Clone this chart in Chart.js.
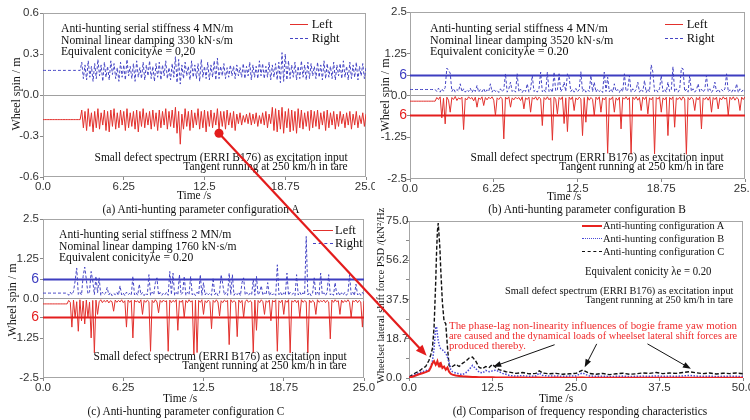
<!DOCTYPE html>
<html><head><meta charset="utf-8">
<script src="https://cdn.jsdelivr.net/npm/chart.js"></script>
<style>
html,body{margin:0;padding:0;background:#fff;}
#wrap{position:relative;width:750px;height:420px;overflow:hidden;background:#fff;}
canvas{position:absolute;}
.t{position:absolute;white-space:nowrap;font-family:"Liberation Serif","Times New Roman",serif;color:#111;}
.lg{position:absolute;height:0;}
</style></head><body><div id="wrap">
<canvas id="cA" width="375" height="204" style="left:0;top:0;width:375px;height:204px"></canvas>
<canvas id="cB" width="375" height="204" style="left:375px;top:0;width:375px;height:204px"></canvas>
<canvas id="cC" width="375" height="201" style="left:0;top:206px;width:375px;height:201px"></canvas>
<canvas id="cD" width="375" height="201" style="left:375px;top:206px;width:375px;height:201px"></canvas>
</div>
<script>
// ---------------- DATA ----------------
const TIME_STEP = 0.125;           // sampling step of the wheel-spin records (s)
const TIME_TICKS = [0, 6.25, 12.5, 18.75, 25];
const TIME_LABELS = ['0.0', '6.25', '12.5', '18.75', '25.0'];
const A_Y_TICKS = [-0.6, -0.3, 0, 0.3, 0.6];
const A_Y_LABELS = ['-0.6', '-0.3', '0.0', '0.3', '0.6'];
const BC_Y_TICKS = [-2.5, -1.25, -0.6, 0, 0.6, 1.25, 2.5];
const BC_Y_LABELS = ['-2.5', '-1.25', '6', '0.0', '6', '1.25', '2.5'];
const LIMIT_UP = 0.6;
const LIMIT_DOWN = -0.6;
const D_X_TICKS = [0, 12.5, 25, 37.5, 50];
const D_X_LABELS = ['0.0', '12.5', '25.0', '37.5', '50.0'];
const D_Y_TICKS = [0, 9.375, 18.75, 28.125, 37.5, 46.875, 56.25, 65.625, 75];
const D_Y_LABELS = ['0.0', '', '18.75', '', '37.5', '', '56.25', '', '75.0'];

// (a) configuration A
const aRight = [
0.18,0.18,0.18,0.18,0.18,0.18,0.18,0.18,
0.18,0.18,0.18,0.18,0.18,0.18,0.18,0.18,
0.18,0.18,0.18,0.18,0.18,0.18,0.18,0.18,
0.24,0.12,0.22,0.11,0.25,0.13,0.21,0.10,
0.23,0.12,0.26,0.14,0.22,0.10,0.24,0.13,
0.21,0.11,0.25,0.15,0.23,0.12,0.20,0.10,
0.24,0.13,0.22,0.11,0.26,0.14,0.21,0.12,
0.23,0.10,0.25,0.13,0.20,0.12,0.24,0.11,
0.22,0.14,0.25,0.12,0.21,0.10,0.23,0.13,
0.24,0.11,0.22,0.14,0.25,0.12,0.20,0.11,
0.23,0.13,0.28,0.09,0.26,0.08,0.22,0.12,
0.24,0.14,0.21,0.11,0.25,0.13,0.22,0.12,
0.23,0.10,0.26,0.13,0.21,0.12,0.24,0.11,
0.22,0.13,0.25,0.11,0.27,0.12,0.21,0.14,
0.23,0.12,0.20,0.13,0.22,0.14,0.21,0.12,
0.22,0.14,0.20,0.13,0.23,0.12,0.21,0.14,
0.24,0.11,0.22,0.13,0.21,0.12,0.25,0.14,
0.23,0.12,0.21,0.13,0.24,0.11,0.22,0.13,
0.23,0.11,0.24,0.09,0.31,0.10,0.30,0.11,
0.25,0.12,0.22,0.13,0.24,0.11,0.21,0.12,
0.25,0.13,0.22,0.11,0.24,0.12,0.23,0.14,
0.21,0.12,0.24,0.13,0.22,0.11,0.25,0.12,
0.23,0.13,0.21,0.12,0.24,0.11,0.22,0.14,
0.23,0.12,0.25,0.13,0.21,0.11,0.24,0.12,
0.22,0.13,0.24,0.11,0.21,0.14,0.23,0.12,
0.20];
const aLeft = [
-0.18,-0.18,-0.18,-0.18,-0.18,-0.18,-0.18,-0.18,
-0.18,-0.18,-0.18,-0.18,-0.18,-0.18,-0.18,-0.18,
-0.18,-0.18,-0.18,-0.18,-0.18,-0.18,-0.18,-0.18,
-0.11,-0.24,-0.12,-0.26,-0.10,-0.23,-0.13,-0.27,
-0.12,-0.24,-0.10,-0.25,-0.13,-0.22,-0.11,-0.26,
-0.12,-0.27,-0.11,-0.23,-0.10,-0.25,-0.13,-0.24,
-0.11,-0.22,-0.12,-0.26,-0.10,-0.24,-0.13,-0.23,
-0.12,-0.25,-0.11,-0.27,-0.12,-0.23,-0.10,-0.24,
-0.13,-0.22,-0.12,-0.25,-0.11,-0.23,-0.13,-0.26,
-0.11,-0.24,-0.12,-0.22,-0.10,-0.25,-0.12,-0.23,
-0.11,-0.24,-0.09,-0.28,-0.12,-0.36,-0.14,-0.25,
-0.10,-0.23,-0.12,-0.26,-0.11,-0.24,-0.13,-0.22,
-0.10,-0.25,-0.12,-0.24,-0.11,-0.27,-0.12,-0.23,
-0.11,-0.24,-0.13,-0.22,-0.10,-0.26,-0.12,-0.23,
-0.12,-0.25,-0.11,-0.22,-0.13,-0.24,-0.12,-0.26,
-0.14,-0.21,-0.13,-0.22,-0.15,-0.20,-0.14,-0.21,
-0.13,-0.22,-0.14,-0.21,-0.13,-0.23,-0.15,-0.21,
-0.13,-0.22,-0.12,-0.24,-0.14,-0.21,-0.09,-0.26,
-0.10,-0.27,-0.11,-0.25,-0.09,-0.28,-0.12,-0.24,
-0.10,-0.27,-0.11,-0.26,-0.12,-0.28,-0.10,-0.24,
-0.11,-0.25,-0.13,-0.23,-0.12,-0.26,-0.11,-0.24,
-0.12,-0.23,-0.11,-0.25,-0.13,-0.22,-0.12,-0.26,
-0.11,-0.24,-0.13,-0.22,-0.12,-0.25,-0.14,-0.23,
-0.12,-0.21,-0.14,-0.24,-0.13,-0.22,-0.12,-0.25,
-0.14,-0.22,-0.12,-0.24,-0.15,-0.21,-0.13,-0.23,
-0.14];

// (b) configuration B
const bRight = [
0.18,0.18,0.18,0.18,0.18,0.18,0.18,0.18,
0.18,0.18,0.18,0.18,0.18,0.18,0.18,0.18,
0.12,0.22,0.10,0.20,0.13,0.24,0.82,0.75,
0.67,0.12,0.21,0.10,0.18,0.13,0.35,0.11,
0.20,0.10,0.17,0.12,0.22,0.09,0.19,0.12,
0.30,0.10,0.18,0.11,0.21,0.09,0.17,0.12,
0.35,0.10,0.19,0.12,0.16,0.09,0.20,0.11,
0.18,0.65,0.10,0.20,0.40,0.12,0.17,0.10,
0.65,0.11,0.19,0.09,0.18,0.12,0.35,0.10,
0.20,0.60,0.12,0.17,0.10,0.21,0.70,0.11,
0.18,0.10,0.70,0.12,0.19,0.09,0.70,0.13,
0.17,0.65,0.11,0.20,0.40,0.12,0.65,0.55,
0.12,0.19,0.10,0.21,0.11,0.18,0.71,0.12,
0.20,0.10,0.17,0.12,0.60,0.11,0.40,0.10,
0.19,0.12,0.17,0.09,0.70,0.12,0.55,0.11,
0.20,0.10,0.35,0.12,0.18,0.09,0.21,0.11,
0.65,0.12,0.17,0.60,0.10,0.20,0.11,0.18,
0.40,0.10,0.19,0.12,0.45,0.09,0.20,0.11,
0.92,0.70,0.12,0.18,0.10,0.21,0.60,0.11,
0.19,0.10,0.40,0.12,0.17,0.86,0.11,0.20,
0.10,0.18,0.82,0.80,0.12,0.19,0.10,0.60,
0.12,0.20,0.10,0.17,0.35,0.11,0.19,0.10,
0.18,0.60,0.12,0.20,0.09,0.17,0.40,0.11,
0.19,0.10,0.18,0.12,0.20,0.65,0.11,0.17,
0.10,0.19,0.12,0.35,0.09,0.20,0.11,0.18,
0.12];
const bLeft = [
-0.17,-0.17,-0.17,-0.17,-0.17,-0.17,-0.17,-0.17,
-0.17,-0.17,-0.17,-0.17,-0.17,-0.17,-0.17,-0.17,
-0.06,-0.12,-0.04,-0.67,-0.08,-0.85,-0.05,-0.14,
-0.50,-0.06,-0.12,-0.03,-0.15,-0.07,-0.11,-0.05,
-1.02,-0.08,-0.13,-0.04,-0.10,-0.06,-0.16,-0.05,
-0.35,-0.07,-0.12,-0.04,-0.30,-0.06,-0.13,-0.05,
-0.10,-0.04,-0.14,-0.60,-0.07,-0.12,-0.05,-0.09,
-1.30,-0.05,-0.11,-0.04,-0.35,-0.07,-0.13,-0.05,
-0.10,-0.06,-0.15,-0.04,-0.40,-0.07,-0.12,-0.05,
-0.50,-0.06,-0.11,-0.04,-0.14,-0.05,-0.10,-0.90,
-0.06,-0.12,-0.04,-0.13,-0.07,-1.34,-0.05,-0.11,
-0.55,-0.06,-0.12,-0.04,-0.84,-0.07,-1.08,-0.05,
-0.12,-0.04,-0.45,-0.07,-0.13,-0.05,-0.10,-1.20,
-0.06,-0.80,-0.04,-0.14,-0.06,-0.11,-0.60,-0.05,
-0.12,-0.04,-0.50,-0.07,-0.13,-0.05,-1.73,-0.08,
-0.12,-0.04,-0.50,-0.07,-0.14,-0.05,-1.00,-0.06,
-0.11,-0.04,-0.13,-0.06,-1.76,-0.05,-0.12,-0.04,
-0.14,-0.06,-0.45,-0.05,-0.12,-0.04,-0.55,-0.07,
-0.13,-0.05,-1.75,-0.06,-0.11,-0.04,-0.50,-0.07,
-0.13,-0.05,-1.20,-0.06,-0.12,-0.04,-0.95,-0.07,
-0.12,-0.05,-0.14,-0.04,-0.10,-1.76,-0.06,-0.13,
-0.05,-0.11,-0.45,-0.06,-0.13,-0.04,-1.00,-0.07,
-0.12,-0.05,-0.14,-0.04,-0.50,-0.06,-0.12,-0.05,
-0.40,-0.07,-0.13,-0.04,-0.11,-0.06,-0.60,-0.05,
-0.12,-0.04,-0.14,-0.06,-0.10,-0.45,-0.05,-0.12,
-0.04];

// (c) configuration C
const cRight = [
0.17,0.17,0.17,0.17,0.17,0.17,0.17,0.17,
0.17,0.17,0.17,0.17,0.17,0.17,0.17,0.17,
0.10,0.20,0.12,0.22,0.55,0.96,0.13,0.20,
0.11,0.70,0.99,0.60,0.14,0.21,0.85,0.55,
0.12,0.70,0.18,0.65,0.10,0.20,0.12,0.17,
0.35,0.11,0.19,0.09,0.16,0.12,0.20,0.10,
0.40,0.11,0.17,0.09,0.20,0.12,0.16,0.10,
0.70,0.11,0.18,0.10,0.45,0.12,0.19,0.09,
0.17,0.11,0.75,0.10,0.20,0.12,0.50,0.65,
0.11,0.19,0.10,0.17,0.12,0.20,0.10,0.85,
0.12,0.80,0.10,0.19,0.11,0.75,0.12,0.18,
0.70,0.10,0.20,0.12,0.70,0.11,0.17,0.09,
0.20,0.12,0.75,0.10,0.50,0.11,0.19,0.12,
0.17,0.10,0.65,0.12,0.20,0.09,0.18,0.75,
0.45,0.11,0.19,0.10,0.80,0.12,0.75,0.10,
0.18,0.12,0.20,0.09,0.50,0.65,0.11,0.19,
0.10,0.17,0.12,0.60,0.10,0.70,0.11,0.20,
0.40,0.10,0.18,0.12,0.50,0.09,0.19,0.11,
0.17,0.10,1.06,0.12,0.20,0.09,0.18,0.11,
0.80,0.10,0.19,0.12,0.17,0.09,0.75,0.11,
0.20,0.10,0.18,0.12,1.95,0.11,0.19,0.09,
0.17,0.65,0.11,0.20,0.10,0.80,0.12,0.18,
0.09,0.19,0.75,0.11,0.17,0.10,0.50,0.12,
0.20,0.09,0.18,0.11,0.19,0.10,0.17,0.75,
0.12,0.20,0.09,0.45,0.11,0.18,0.10,0.19,
0.12];
const cLeft = [
-0.17,-0.17,-0.17,-0.17,-0.17,-0.17,-0.17,-0.17,
-0.17,-0.17,-0.17,-0.17,-0.17,-0.17,-0.17,-0.17,
-0.06,-0.12,-0.90,-0.05,-0.60,-0.10,-1.03,-0.04,
-0.70,-0.08,-0.80,-0.05,-0.60,-0.11,-1.24,-0.06,
-1.71,-0.05,-0.50,-0.10,-0.04,-0.13,-0.06,-0.11,
-0.05,-0.14,-0.07,-0.10,-0.40,-0.05,-0.12,-0.06,
-0.11,-0.04,-0.13,-0.07,-0.90,-0.05,-0.12,-0.06,
-1.24,-0.05,-0.11,-0.07,-0.14,-0.04,-0.50,-0.06,
-0.12,-0.05,-0.10,-1.66,-0.06,-0.13,-0.04,-0.11,
-0.45,-0.06,-0.12,-0.05,-0.10,-0.07,-1.66,-0.05,
-0.13,-0.06,-0.11,-0.04,-1.00,-0.07,-0.12,-0.05,
-0.60,-0.06,-0.13,-0.04,-0.11,-0.07,-1.77,-0.05,
-1.70,-0.06,-0.12,-0.04,-0.50,-0.07,-0.13,-0.05,
-0.10,-0.95,-0.06,-0.12,-0.04,-0.11,-0.55,-0.07,
-0.13,-0.05,-0.10,-0.06,-1.45,-0.04,-0.12,-0.07,
-0.11,-1.20,-0.05,-0.13,-0.06,-0.60,-0.10,-0.04,
-0.12,-0.07,-0.11,-1.71,-0.05,-1.00,-0.06,-0.13,
-0.04,-0.10,-0.50,-0.07,-0.12,-0.05,-0.70,-0.06,
-0.11,-0.04,-1.66,-0.07,-0.13,-0.05,-0.50,-0.06,
-0.12,-0.04,-1.71,-0.07,-0.11,-0.05,-0.13,-0.06,
-0.60,-0.04,-0.12,-0.07,-0.10,-1.71,-0.05,-0.13,
-0.06,-0.11,-0.50,-0.04,-0.12,-0.07,-0.10,-0.05,
-0.13,-0.06,-0.11,-1.27,-0.05,-0.12,-0.04,-0.10,
-0.07,-0.50,-0.05,-0.13,-0.06,-0.11,-0.04,-0.12,
-0.60,-0.07,-0.10,-0.05,-0.13,-0.06,-0.11,-0.90,
-0.08];

// (d) PSD comparison
const dFreq = [0,0.5,1,1.5,2,2.5,3,
3.25,3.5,3.75,4,4.125,4.25,4.375,4.5,4.625,4.75,5,5.25,5.5,5.75,6,6.25,6.5,
7,7.5,8,8.5,9,9.5,10,10.5,11,11.5,12,12.5,13,13.5,14,14.5,15,
16,17,18,19,19.5,20,21,22,23,24,25,25.5,26,26.5,27,
28,29,30,31,32,33,34,35,36,37,38,39,40,41,42,43,44,45,46,47,48,49,50];
const dConfigA = [0.2,0.6,1.2,1.8,2.3,2.8,3.5,
5,7,8,6.3,7,8,6.5,5.5,7,7.2,4.8,5.5,4,5,3,2,1.6,
1.2,1,0.8,0.7,0.6,0.5,0.5,0.4,0.4,0.35,0.3,0.3,0.25,0.25,0.2,0.2,0.2,
0.2,0.2,0.15,0.2,0.2,0.15,0.15,0.2,0.15,0.15,0.15,0.2,0.2,0.15,0.15,
0.15,0.1,0.15,0.1,0.15,0.15,0.1,0.15,0.1,0.15,0.15,0.1,0.15,0.1,0.15,0.15,0.1,0.15,0.1,0.15,0.1,0.15,0.1];
const dConfigB = [0.3,1,1.8,2.5,3,3.5,4,
5.5,8,14,24,24.5,21,18,16,14.5,14,13.5,12.5,12,10,7.5,4,3,
2.4,2,1.6,2.5,4,6,4.5,2.8,2.4,3.6,3,3.4,3.8,3,2.2,1.8,1.2,
0.9,1.1,0.8,1,2.4,1.2,0.9,1,0.8,0.9,1,1.8,2.4,1.6,1,
0.8,0.9,0.7,0.8,0.9,0.7,0.8,0.9,0.8,1,0.8,0.9,0.8,1,1.2,0.9,0.8,0.9,0.7,0.8,0.9,0.8,0.7];
const dConfigC = [0.5,1.5,2.5,3.2,4.5,5.5,8.5,
11,14,24,46,60,70,74,68,62,52,36,27,26,15,6,5,5.5,
6.5,5.5,7,8,9.5,10,8,5,4.5,5.5,5,6.5,5,4,3.5,3,2.8,
2.2,2.6,2,2.2,3.4,2.4,2,2.2,1.8,2,2.2,3,3.8,3,2.2,
1.8,2.2,1.6,2,2.3,1.8,2,2.4,2.2,2.6,2.1,2.4,2.2,2.6,3,2.5,2.1,2.4,1.9,2.3,2.1,2.4,2];

// annotation anchors (in data units of the panels they point at)
const redArrowFromA = [13.62, -0.28];
const redArrowToD = [2.65, 10.6];
const blackArrowsD = [[21.8, 15.9, 12.6, 5.4], [28.1, 16.3, 26.3, 5.1], [35.7, 16.3, 42.2, 4.4]];

// ---------------- STYLES / HELPERS ----------------
const RED = '#e2302c', BLUE = '#4545c4', LRED = '#e41e1e', LBLUE = '#3d3dc0';
Chart.defaults.font.family = '"Liberation Sans", Arial, sans-serif';
Chart.defaults.color = '#333';

const framePlugin = {
  id: 'frame',
  beforeDatasetsDraw(chart) {
    const {ctx, chartArea: a} = chart;
    ctx.save();
    ctx.strokeStyle = '#a6a6a6'; ctx.lineWidth = 1;
    ctx.strokeRect(Math.round(a.left) + 0.5, Math.round(a.top) + 0.5, Math.round(a.right - a.left) - 1, Math.round(a.bottom - a.top) - 1);
    ctx.restore();
  }
};

function xScale(min, max, ticks, labels, height) {
  return {
    type: 'linear', min, max,
    afterBuildTicks: s => { s.ticks = ticks.map(v => ({value: v})); },
    afterFit: s => { s.height = height; s.paddingLeft = 0; s.paddingRight = 0; },
    ticks: {autoSkip: false, maxRotation: 0, minRotation: 0, padding: 0, color: '#333', font: {size: 11.5},
      callback: (v, i) => labels[i]},
    grid: {drawOnChartArea: false, tickLength: 3, color: '#888', tickColor: '#888'},
    border: {display: false}
  };
}
function yScale(o) {
  const isLim = c => c && c.tick && Math.abs(Math.abs(c.tick.value) - 0.6) < 1e-9 && o.limits;
  return {
    type: 'linear', min: o.min, max: o.max,
    afterBuildTicks: s => { s.ticks = o.ticks.map(v => ({value: v})); },
    afterFit: s => { s.width = o.width; s.paddingTop = 0; s.paddingBottom = 0; },
    ticks: {autoSkip: false, padding: o.pad, crossAlign: o.cross || 'near',
      color: c => isLim(c) ? (c.tick.value > 0 ? LBLUE : LRED) : '#333',
      font: c => ({size: isLim(c) ? 14 : 11.5}),
      callback: (v, i) => o.labels[i]},
    grid: {drawOnChartArea: !!o.zero, tickLength: 3, tickColor: '#888', lineWidth: 1,
      color: c => (o.zero && c && c.tick && c.tick.value === 0) ? '#a0a0a0' : 'rgba(0,0,0,0)'},
    border: {display: false}
  };
}
const series = vals => vals.map((v, i) => ({x: i * TIME_STEP, y: v}));
const psd = vals => vals.map((v, i) => ({x: dFreq[i], y: v}));
const hline = (y, x0, x1) => [{x: x0, y}, {x: x1, y}];

function make(id, padding, xs, ys, datasets) {
  return new Chart(document.getElementById(id), {
    type: 'line',
    data: {datasets},
    options: {
      responsive: false, maintainAspectRatio: false, animation: false, events: [],
      layout: {padding},
      plugins: {legend: {display: false}, tooltip: {enabled: false}},
      elements: {point: {radius: 0}, line: {tension: 0}},
      scales: {x: xs, y: ys}
    },
    plugins: [framePlugin]
  });
}
const leftDs = d => ({data: series(d), borderColor: RED, borderWidth: 1});
const rightDs = d => ({data: series(d), borderColor: BLUE, borderWidth: 1, borderDash: [3, 2]});
const limDs = (y, col) => ({data: hline(y, 0, 25), borderColor: col, borderWidth: 2});

const chA = make('cA', {left: 0, top: 13, right: 9, bottom: 0},
  xScale(0, 25, TIME_TICKS, TIME_LABELS, 27),
  yScale({min: -0.6, max: 0.6, ticks: A_Y_TICKS, labels: A_Y_LABELS, width: 43, pad: 1, zero: true}),
  [leftDs(aLeft), rightDs(aRight)]);
const chB = make('cB', {left: 0, top: 12, right: 5, bottom: 0},
  xScale(0, 25, TIME_TICKS, TIME_LABELS, 25),
  yScale({min: -2.5, max: 2.5, ticks: BC_Y_TICKS, labels: BC_Y_LABELS, width: 35, pad: 0, zero: true, limits: true}),
  [limDs(LIMIT_UP, LBLUE), limDs(LIMIT_DOWN, LRED), leftDs(bLeft), rightDs(bRight)]);
const chC = make('cC', {left: 0, top: 13, right: 11, bottom: 0},
  xScale(0, 25, TIME_TICKS, TIME_LABELS, 29),
  yScale({min: -2.5, max: 2.5, ticks: BC_Y_TICKS, labels: BC_Y_LABELS, width: 43, pad: 1, zero: true, limits: true}),
  [limDs(LIMIT_UP, LBLUE), limDs(LIMIT_DOWN, LRED), leftDs(cLeft), rightDs(cRight)]);
const chD = make('cD', {left: 11, top: 15, right: 7, bottom: 0},
  xScale(0, 50, D_X_TICKS, D_X_LABELS, 29),
  yScale({min: 0, max: 75, ticks: D_Y_TICKS, labels: D_Y_LABELS, width: 23, pad: 0, cross: 'far'}),
  [{data: psd(dConfigA), borderColor: '#e8221e', borderWidth: 2},
   {data: psd(dConfigB), borderColor: '#4a4ad6', borderWidth: 1.5, borderDash: [1.5, 1.5]},
   {data: psd(dConfigC), borderColor: '#111', borderWidth: 1.4, borderDash: [4, 2]}]);

// ---------------- TEXT ----------------
const wrap = document.getElementById('wrap');
function txt(s, x, y, size, o = {}) {
  const d = document.createElement('div');
  d.className = 't'; d.textContent = s;
  d.style.fontSize = size + 'px'; d.style.lineHeight = size + 'px';
  d.style.top = (y - size * 0.55) + 'px';
  let origin = 'left center', pre = '';
  if (o.align === 'right') { d.style.right = (750 - x) + 'px'; origin = 'right center'; }
  else if (o.align === 'center') { d.style.left = x + 'px'; pre = 'translateX(-50%) '; origin = 'center center'; }
  else d.style.left = x + 'px';
  if (o.color) d.style.color = o.color;
  wrap.appendChild(d);
  let sx = o.sx || 1;
  if (o.w) sx = o.w / d.offsetWidth;
  d.style.transformOrigin = origin;
  d.style.transform = pre + 'scaleX(' + sx + ')';
  return d;
}
function vtxt(s, cx, cy, size) {
  const d = document.createElement('div');
  d.className = 't'; d.textContent = s;
  d.style.fontSize = size + 'px'; d.style.lineHeight = size + 'px';
  d.style.left = cx + 'px'; d.style.top = cy + 'px';
  d.style.transform = 'translate(-50%,-50%) rotate(-90deg)';
  wrap.appendChild(d);
}
function legLine(x0, x1, y, style) {
  const d = document.createElement('div');
  d.className = 'lg';
  d.style.left = x0 + 'px'; d.style.width = (x1 - x0) + 'px';
  d.style.top = (y - 1) + 'px'; d.style.borderTop = style;
  wrap.appendChild(d);
}
const F = 12.5, FX = 0.93, FSX = 0.915;
// (a)
txt('Anti-hunting serial stiffness 4 MN/m', 61, 29.3, F, {sx: FX});
txt('Nominal linear damping 330 kN·s/m', 61, 40.7, F, {sx: FX});
txt('Equivalent conicityλe = 0,20', 61, 52.3, F, {sx: FX});
txt('Small defect spectrum (ERRI B176) as excitation input', 348, 158.3, F, {align: 'right', sx: FSX});
txt('Tangent running at 250 km/h in tare', 348, 167, F, {align: 'right', sx: FSX});
legLine(290, 308, 25, '1.5px solid ' + RED); txt('Left', 311.7, 25, 12.5);
legLine(290, 308, 39.3, '1px dashed ' + BLUE); txt('Right', 311.7, 39.3, 12.5);
txt('Time /s', 194, 195, 13, {align: 'center', sx: 0.88});
vtxt('Wheel spin / m', 16, 94, 12);
txt('(a) Anti-hunting parameter configuration A', 201, 210, 12, {align: 'center', sx: 0.95});
// (b)
txt('Anti-hunting serial stiffness 4 MN/m', 430, 29, F, {sx: 0.96});
txt('Nominal linear damping 3520 kN·s/m', 430, 40.7, F, {sx: 0.96});
txt('Equivalent conicityλe = 0.20', 430, 52.3, F, {sx: 0.96});
txt('Small defect spectrum (ERRI B176) as excitation input', 723.3, 158, F, {align: 'right', sx: FSX});
txt('Tangent running at 250 km/h in tare', 723.3, 167, F, {align: 'right', sx: FSX});
legLine(665, 683, 25, '1.5px solid ' + RED); txt('Left', 686.7, 25, 12.5);
legLine(665, 683, 39.3, '1px dashed ' + BLUE); txt('Right', 686.7, 39.3, 12.5);
txt('Time /s', 564, 196, 13, {align: 'center', sx: 0.88});
vtxt('Wheel spin / m', 385, 95, 12);
txt('(b) Anti-hunting parameter configuration B', 587, 210, 12, {align: 'center', sx: 0.95});
// (c)
txt('Anti-hunting serial stiffness 2 MN/m', 59.3, 235, F, {sx: FX});
txt('Nominal linear damping 1760 kN·s/m', 59.3, 246.7, F, {sx: FX});
txt('Equivalent conicityλe = 0.20', 59.3, 258.3, F, {sx: FX});
txt('Small defect spectrum (ERRI B176) as excitation input', 346.7, 356.7, F, {align: 'right', sx: FSX});
txt('Tangent running at 250 km/h in tare', 346.7, 365.7, F, {align: 'right', sx: FSX});
legLine(313, 333, 230.7, '1.5px solid ' + RED); txt('Left', 335, 230.7, 12.5);
legLine(313, 333, 244, '1px dashed ' + BLUE); txt('Right', 335, 244, 12.5);
txt('Time /s', 180, 398, 13, {align: 'center', sx: 0.88});
vtxt('Wheel spin / m', 12, 300, 12);
txt('(c) Anti-hunting parameter configuration C', 185.5, 411.7, 12, {align: 'center', sx: 0.95});
// (d)
legLine(581.7, 601.7, 226, '2px solid #e8221e'); txt('Anti-hunting configuration A', 603, 226, 11, {sx: 0.94});
legLine(581.7, 601.7, 239.3, '1.5px dotted #4a4ad6'); txt('Anti-hunting configuration B', 603, 239.3, 11, {sx: 0.94});
legLine(581.7, 601.7, 251.7, '1.5px dashed #111'); txt('Anti-hunting configuration C', 603, 251.7, 11, {sx: 0.94});
txt('Equivalent conicity λe = 0.20', 711.7, 271.7, 12.5, {align: 'right', w: 126});
txt('Small defect spectrum (ERRI B176) as excitation input', 733, 291, 11, {align: 'right', w: 228});
txt('Tangent running at 250 km/h in tare', 733, 300.3, 11, {align: 'right', sx: 0.935});
const RT = '#ee2a2a';
txt('The phase-lag non-linearity influences of bogie frame yaw motion', 449, 325.7, 11.2, {color: RT, w: 288});
txt('are caused and the dynamical loads of wheelset lateral shift forces are', 449, 335.7, 11.2, {color: RT, w: 288});
txt('produced thereby.', 449, 345.7, 11.2, {color: RT, sx: 0.96});
txt('Time /s', 556, 398, 13, {align: 'center', sx: 0.88});
txt('(d) Comparison of frequency responding characteristics', 580, 411.7, 12, {align: 'center', w: 255});
(function () {
  const box = document.createElement('div');
  box.style.cssText = 'position:absolute;left:372px;top:208px;width:16px;height:190px;overflow:hidden;';
  const d = document.createElement('div');
  d.className = 't';
  d.textContent = 'Wheelset lateral shift force PSD /(kN²/Hz)';
  d.style.fontSize = '10.5px'; d.style.lineHeight = '10.5px';
  d.style.left = (381 - 372) + 'px'; d.style.top = (383 - 208 - 5.25) + 'px';
  d.style.transformOrigin = '0 50%'; d.style.transform = 'rotate(-90deg)';
  box.appendChild(d); wrap.appendChild(box);
})();

// ---------------- ARROWS ----------------
const NS = 'http://www.w3.org/2000/svg';
const svg = document.createElementNS(NS, 'svg');
svg.setAttribute('width', 750); svg.setAttribute('height', 420);
svg.style.cssText = 'position:absolute;left:0;top:0;pointer-events:none;';
wrap.appendChild(svg);
function pix(ch, ox, oy, xv, yv) { return [ox + ch.scales.x.getPixelForValue(xv), oy + ch.scales.y.getPixelForValue(yv)]; }
function arrow(p1, p2, col, w, hl, hw) {
  const dx = p2[0] - p1[0], dy = p2[1] - p1[1], L = Math.hypot(dx, dy), ux = dx / L, uy = dy / L;
  const bx = p2[0] - ux * hl, by = p2[1] - uy * hl;
  const ln = document.createElementNS(NS, 'line');
  ln.setAttribute('x1', p1[0]); ln.setAttribute('y1', p1[1]);
  ln.setAttribute('x2', bx + ux); ln.setAttribute('y2', by + uy);
  ln.setAttribute('stroke', col); ln.setAttribute('stroke-width', w);
  svg.appendChild(ln);
  const pg = document.createElementNS(NS, 'polygon');
  pg.setAttribute('points', [p2[0], p2[1], bx - uy * hw / 2, by + ux * hw / 2, bx + uy * hw / 2, by - ux * hw / 2].join(' '));
  pg.setAttribute('fill', col);
  svg.appendChild(pg);
}
const pStart = pix(chA, 0, 0, redArrowFromA[0], redArrowFromA[1]);
const pEnd = pix(chD, 375, 206, redArrowToD[0], redArrowToD[1]);
arrow(pStart, pEnd, '#e31c1c', 2.2, 11, 9);
const dot = document.createElementNS(NS, 'circle');
dot.setAttribute('cx', pStart[0]); dot.setAttribute('cy', pStart[1]); dot.setAttribute('r', 4.5);
dot.setAttribute('fill', '#e31c1c'); svg.appendChild(dot);
blackArrowsD.forEach(a => arrow(pix(chD, 375, 206, a[0], a[1]), pix(chD, 375, 206, a[2], a[3]), '#111', 1, 8, 6));
</script></body></html>
